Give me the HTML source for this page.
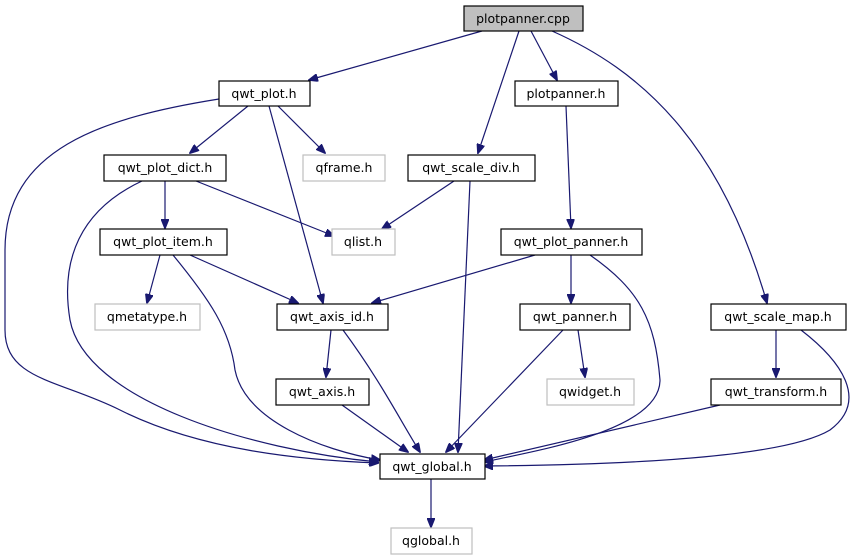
<!DOCTYPE html>
<html><head><meta charset="utf-8"><style>
html,body{margin:0;padding:0;background:#fff;}
svg{display:block;}
text{font-family:"DejaVu Sans","Liberation Sans",sans-serif;font-size:12.5px;text-anchor:middle;fill:#000;}
.n{fill:#fff;stroke:#000;stroke-width:1.2;}
.g{fill:#fff;stroke:#bfbfbf;stroke-width:1.2;}
.e{fill:none;stroke:#191970;stroke-width:1.2;}
</style></head><body>
<svg width="860" height="560" viewBox="0 0 860 560" xmlns="http://www.w3.org/2000/svg">
<defs><marker id="a" markerWidth="10" markerHeight="8" refX="9" refY="4" orient="auto" markerUnits="userSpaceOnUse"><path d="M0,0 L10,4 L0,8 z" fill="#191970" stroke="#191970"/></marker></defs>
<!-- edges -->
<path class="e" marker-end="url(#a)" d="M482,31 L309,80"/>
<path class="e" marker-end="url(#a)" d="M519,31 L478,153"/>
<path class="e" marker-end="url(#a)" d="M531,31 L557,80"/>
<path class="e" marker-end="url(#a)" d="M552,31 C640,70 720,140 767,303"/>
<path class="e" marker-end="url(#a)" d="M248,106 L190,153"/>
<path class="e" marker-end="url(#a)" d="M278,106 L325,153"/>
<path class="e" marker-end="url(#a)" d="M269,106 L323,303"/>
<path class="e" marker-end="url(#a)" d="M219,99 C100,118 5,150 5,250 L5,330 C5,380 60,380 120,410 C200,450 300,460 378,463"/>
<path class="e" marker-end="url(#a)" d="M165,181 L165,228"/>
<path class="e" marker-end="url(#a)" d="M196,181 L334,236"/>
<path class="e" marker-end="url(#a)" d="M142,181 C80,210 60,260 70,320 C85,400 250,450 378,462"/>
<path class="e" marker-end="url(#a)" d="M454,181 L382,229"/>
<path class="e" marker-end="url(#a)" d="M470,181 L458,452"/>
<path class="e" marker-end="url(#a)" d="M566,106 L571,228"/>
<path class="e" marker-end="url(#a)" d="M160,255 L147,303"/>
<path class="e" marker-end="url(#a)" d="M190,255 L298,303"/>
<path class="e" marker-end="url(#a)" d="M173,255 C210,300 230,330 235,370 C245,420 320,450 380,460"/>
<path class="e" marker-end="url(#a)" d="M535,255 L372,303"/>
<path class="e" marker-end="url(#a)" d="M571,255 L571,303"/>
<path class="e" marker-end="url(#a)" d="M590,255 C640,290 655,320 660,380 C660,430 540,450 484,462"/>
<path class="e" marker-end="url(#a)" d="M331,330 L326,377"/>
<path class="e" marker-end="url(#a)" d="M343,330 C380,380 400,420 420,452"/>
<path class="e" marker-end="url(#a)" d="M563,330 L446,452"/>
<path class="e" marker-end="url(#a)" d="M578,330 L585,377"/>
<path class="e" marker-end="url(#a)" d="M776,330 L776,377"/>
<path class="e" marker-end="url(#a)" d="M801,330 C840,360 870,400 830,430 C780,460 600,465 484,466"/>
<path class="e" marker-end="url(#a)" d="M342,405 L408,452"/>
<path class="e" marker-end="url(#a)" d="M720,405 L484,460"/>
<path class="e" marker-end="url(#a)" d="M431,479 L431,527"/>
<!-- nodes -->
<rect x="464" y="6" width="119" height="25" fill="#bfbfbf" stroke="#000" stroke-width="1.2"/><text x="523" y="23">plotpanner.cpp</text>
<rect class="n" x="219" y="81" width="91" height="25"/><text x="264" y="98">qwt_plot.h</text>
<rect class="n" x="515" y="81" width="103" height="25"/><text x="566" y="98">plotpanner.h</text>
<rect class="n" x="104" y="155" width="122" height="26"/><text x="165" y="172">qwt_plot_dict.h</text>
<rect class="g" x="303" y="155" width="82" height="26"/><text x="344" y="172">qframe.h</text>
<rect class="n" x="408" y="155" width="127" height="26"/><text x="471" y="172">qwt_scale_div.h</text>
<rect class="n" x="100" y="229" width="127" height="26"/><text x="163" y="246">qwt_plot_item.h</text>
<rect class="g" x="332" y="229" width="63" height="26"/><text x="363" y="246">qlist.h</text>
<rect class="n" x="501" y="229" width="141" height="26"/><text x="571" y="246">qwt_plot_panner.h</text>
<rect class="g" x="95" y="304" width="105" height="26"/><text x="147" y="321">qmetatype.h</text>
<rect class="n" x="277" y="304" width="111" height="26"/><text x="332" y="321">qwt_axis_id.h</text>
<rect class="n" x="520" y="304" width="110" height="26"/><text x="575" y="321">qwt_panner.h</text>
<rect class="n" x="711" y="304" width="135" height="26"/><text x="778" y="321">qwt_scale_map.h</text>
<rect class="n" x="276" y="379" width="93" height="26"/><text x="322" y="396">qwt_axis.h</text>
<rect class="g" x="547" y="379" width="87" height="26"/><text x="590" y="396">qwidget.h</text>
<rect class="n" x="711" y="379" width="130" height="26"/><text x="776" y="396">qwt_transform.h</text>
<rect class="n" x="380" y="454" width="105" height="25"/><text x="432" y="471">qwt_global.h</text>
<rect class="g" x="391" y="528" width="81" height="26"/><text x="431" y="545">qglobal.h</text>
</svg>
</body></html>
